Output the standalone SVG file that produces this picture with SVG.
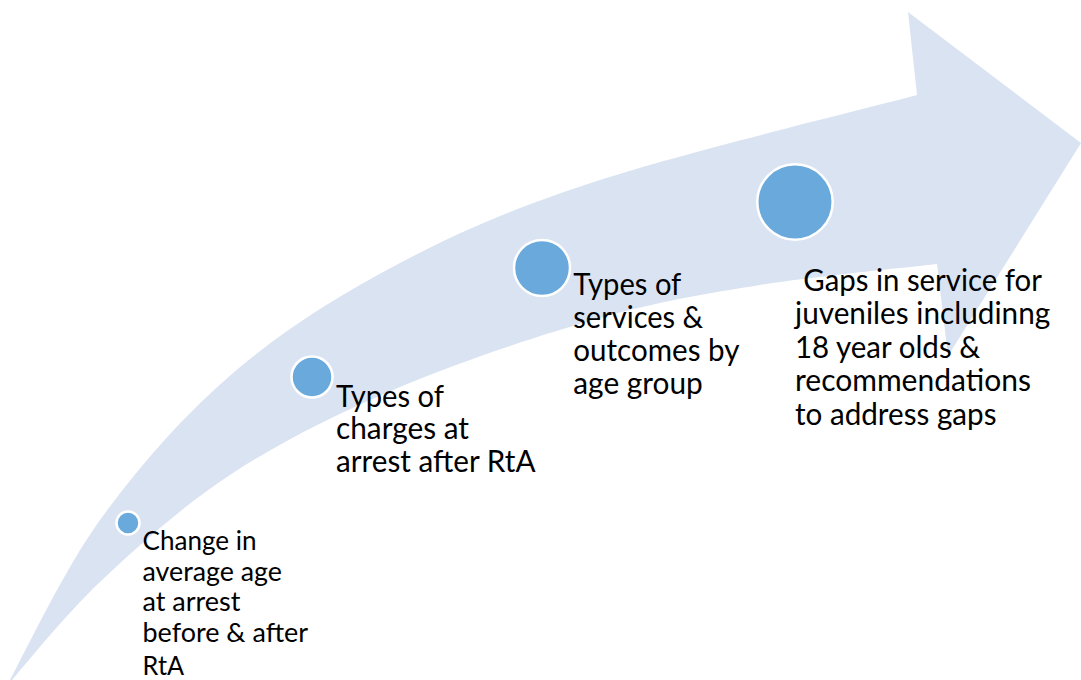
<svg xmlns="http://www.w3.org/2000/svg" width="1081" height="680" viewBox="0 0 1081 680">
<style>
  .dot { fill: #6AA9DB; stroke: #FFFFFF; stroke-width: 2.5; }
  .lbl { font-family: Lato, "Open Sans", "Liberation Sans", sans-serif; fill: #000000; }
  .big { font-size: 30.5px; }
  .small { font-size: 26.5px; }
</style>
<rect x="0" y="0" width="1081" height="680" fill="#FFFFFF"/>
<g id="connectors">
  <path id="flow-arrow" fill="#DAE3F2" d="M 6,687 C 22.5,658.3 62.3,572.2 100,520 C 137.7,467.8 183,415.8 233,373 C 283,330.2 338.8,295.2 400,263 C 461.2,230.8 513.8,208 600,180 C 686.2,152 864.2,109.2 917,95 L 908,12 L 1081,143 L 948,356 L 937,264 C 907.5,267.5 816.2,276 760,285 C 703.8,294 660,301 600,318 C 540,335 461.2,361.2 400,387 C 338.8,412.8 283,440.5 233,473 C 183,505.5 137.8,546.3 100,582 C 62.2,617.7 21.7,669.5 6,687 Z"/>
</g>
<g id="node1">
  <circle class="dot" cx="128" cy="523" r="11.5"/>
  <text class="lbl small">
    <tspan x="142.5" y="550" textLength="114" lengthAdjust="spacingAndGlyphs">Change in</tspan>
    <tspan x="142.5" y="580.5" textLength="139.5" lengthAdjust="spacingAndGlyphs">average age</tspan>
    <tspan x="142.5" y="611" textLength="98" lengthAdjust="spacingAndGlyphs">at arrest</tspan>
    <tspan x="142.5" y="642" textLength="165" lengthAdjust="spacingAndGlyphs">before &amp; after</tspan>
    <tspan x="142.5" y="674.5" textLength="41.5" lengthAdjust="spacingAndGlyphs">RtA</tspan>
  </text>
</g>
<g id="node2">
  <circle class="dot" cx="312" cy="377" r="20.5"/>
  <text class="lbl big">
    <tspan x="336" y="407" textLength="107.5" lengthAdjust="spacingAndGlyphs">Types of</tspan>
    <tspan x="336" y="439" textLength="133" lengthAdjust="spacingAndGlyphs">charges at</tspan>
    <tspan x="336" y="471.5" textLength="199.5" lengthAdjust="spacingAndGlyphs">arrest after RtA</tspan>
  </text>
</g>
<g id="node3">
  <circle class="dot" cx="542" cy="268" r="28"/>
  <text class="lbl big">
    <tspan x="573.3" y="295" textLength="107.5" lengthAdjust="spacingAndGlyphs">Types of</tspan>
    <tspan x="573.3" y="328" textLength="130" lengthAdjust="spacingAndGlyphs">services &amp;</tspan>
    <tspan x="573.3" y="360.5" textLength="165.5" lengthAdjust="spacingAndGlyphs">outcomes by</tspan>
    <tspan x="573.3" y="393.5" textLength="129.5" lengthAdjust="spacingAndGlyphs">age group</tspan>
  </text>
</g>
<g id="node4">
  <circle class="dot" cx="795" cy="202" r="37.7"/>
  <text class="lbl big">
    <tspan x="803.3" y="290.5" textLength="238" lengthAdjust="spacingAndGlyphs">Gaps in service for</tspan>
    <tspan x="795" y="324" textLength="255.2" lengthAdjust="spacingAndGlyphs">juveniles includinng</tspan>
    <tspan x="795" y="357.5" textLength="185.2" lengthAdjust="spacingAndGlyphs">18 year olds &amp;</tspan>
    <tspan x="795" y="391" textLength="236" lengthAdjust="spacingAndGlyphs">recommendations</tspan>
    <tspan x="795" y="425" textLength="201.5" lengthAdjust="spacingAndGlyphs">to address gaps</tspan>
  </text>
</g>
</svg>
